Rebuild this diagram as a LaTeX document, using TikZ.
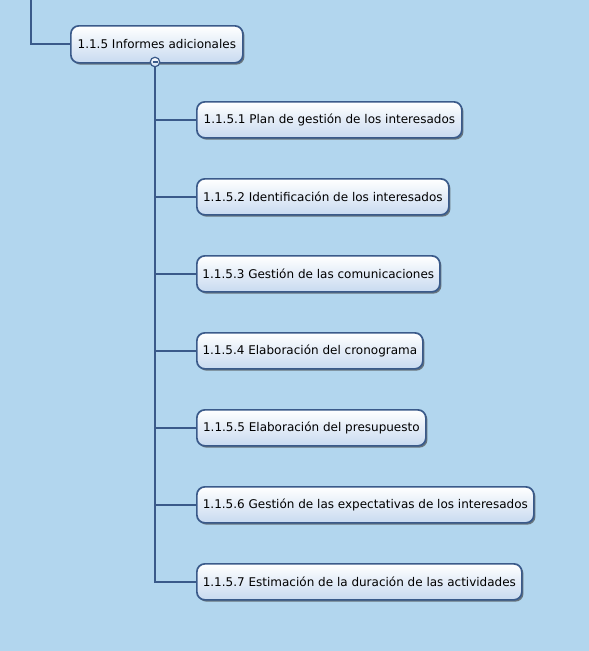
\documentclass[tikz,border=0pt]{standalone}
\usepackage{fontspec}
\setmainfont{DejaVu Sans}
\usetikzlibrary{shadows}
\definecolor{bgblue}{RGB}{178,214,238}
\definecolor{edgeblue}{RGB}{58,90,138}
\definecolor{fillbot}{RGB}{200,218,240}
\tikzset{
  wbs/.style={draw=edgeblue, line width=1.7pt, rounded corners=8pt,
    top color=white, bottom color=fillbot, anchor=north west,
    minimum height=36pt, inner xsep=3pt, inner ysep=0pt,
    font=\fontsize{12}{14}\selectfont,
    drop shadow={shadow xshift=1.6pt, shadow yshift=-1.8pt, fill=black!75, opacity=0.65}},
  conn/.style={draw=edgeblue, line width=2.2pt},
}
\begin{document}
\begin{tikzpicture}[x=1pt,y=-1pt]
\fill[bgblue] (0,0) rectangle (589,651);
\useasboundingbox (0,0) rectangle (589,651);
\coordinate (up) at (31,0);
\node[wbs, minimum width=172pt, minimum height=37pt] (top) at (70,25) {1.1.5 Informes adicionales};
\coordinate (tr) at (155,62);
\node[wbs, minimum width=265pt] (c1) at (196,101) {1.1.5.1 Plan de gestión de los interesados};
\node[wbs, minimum width=252pt] (c2) at (196,178) {1.1.5.2 Identificación de los interesados};
\node[wbs, minimum width=243pt] (c3) at (196,255) {1.1.5.3 Gestión de las comunicaciones};
\node[wbs, minimum width=226pt] (c4) at (196,332) {1.1.5.4 Elaboración del cronograma};
\node[wbs, minimum width=229pt] (c5) at (196,409) {1.1.5.5 Elaboración del presupuesto};
\node[wbs, minimum width=337pt] (c6) at (196,486) {1.1.5.6 Gestión de las expectativas de los interesados};
\node[wbs, minimum width=325pt] (c7) at (196,563) {1.1.5.7 Estimación de la duración de las actividades};
\draw[conn] (up) |- (top.west);
\foreach \c in {c1,c2,c3,c4,c5,c6,c7} \draw[conn] (tr) |- (\c.west);
\node[circle, draw=edgeblue, line width=1.2pt, top color=white, bottom color=fillbot, minimum size=9.5pt, inner sep=0pt] (col) at (tr) {};
\draw[edgeblue, line width=1.4pt] ([xshift=-2.5pt]col.center) -- ([xshift=2.5pt]col.center);
\end{tikzpicture}
\end{document}
